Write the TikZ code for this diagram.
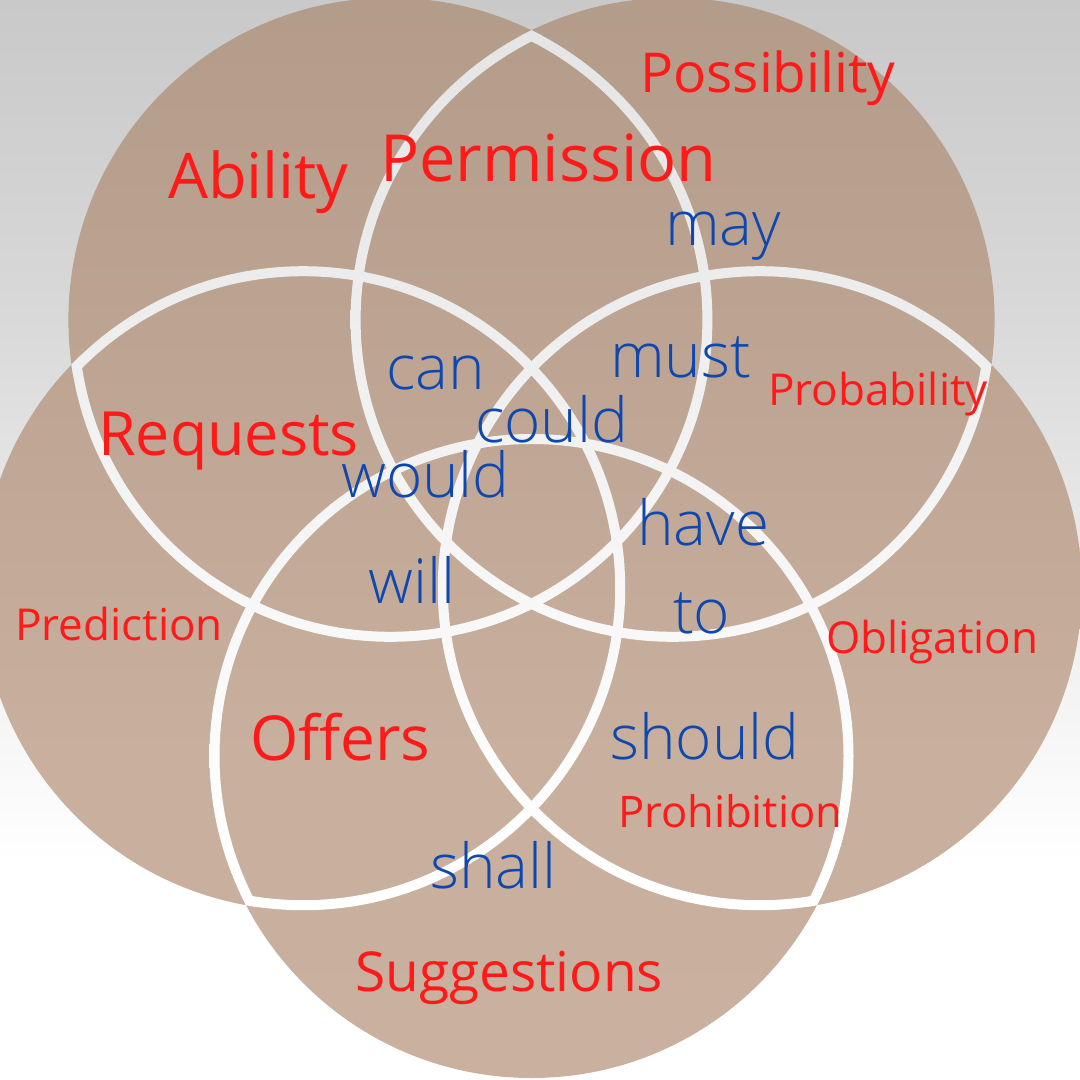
\documentclass[tikz,border=0pt]{standalone}
\usepackage{fontspec}
\setmainfont{Open Sans}
\newfontfamily\lightfont{Open Sans Light}
\definecolor{redtxt}{RGB}{255,26,26}
\definecolor{bluetxt}{RGB}{14,72,174}
\definecolor{bgA}{RGB}{236,236,236}
\definecolor{bgB}{RGB}{216,216,216}
\definecolor{bgC}{RGB}{204,204,204}
\definecolor{bgD}{RGB}{190,190,190}
\definecolor{bgE}{RGB}{176,176,176}
\definecolor{rgA}{RGB}{246,246,246}
\definecolor{rgB}{RGB}{233,233,233}
\definecolor{rgC}{RGB}{227,227,227}
\definecolor{rgD}{RGB}{218,218,218}
\definecolor{rgE}{RGB}{212,212,212}
\definecolor{brA}{RGB}{202,177,160}
\definecolor{brB}{RGB}{201,176,158}
\definecolor{brC}{RGB}{190,165,147}
\definecolor{brD}{RGB}{177,153,135}
\definecolor{brE}{RGB}{165,141,123}
\pgfdeclareverticalshading{bgsh}{100bp}{color(0bp)=(white); color(35bp)=(white); color(48bp)=(bgA); color(61bp)=(bgB); color(72bp)=(bgC); color(86bp)=(bgD); color(100bp)=(bgE)}
\pgfdeclareverticalshading{ringsh}{100bp}{color(0bp)=(white); color(35bp)=(white); color(49bp)=(rgA); color(66bp)=(rgB); color(77bp)=(rgC); color(91bp)=(rgD); color(100bp)=(rgE)}
\pgfdeclareverticalshading{brgrad}{100bp}{color(0bp)=(brA); color(40bp)=(brB); color(58bp)=(brC); color(80bp)=(brD); color(100bp)=(brE)}
\newcommand\ringpart[5]{%
  \begin{scope}
    \clip (#2) circle[radius=322pt] (#3) circle[radius=322pt] (#4) circle[radius=322pt] (#5) circle[radius=322pt];
    \clip (#1) ++(322pt,0pt) arc[start angle=0,end angle=360,radius=322pt]
          (#1) ++(312pt,0pt) arc[start angle=360,end angle=0,radius=312pt];
    \shade[shading=ringsh] (0,0) rectangle (1080,1080);
  \end{scope}}
\begin{document}
\begin{tikzpicture}[x=1pt,y=-1pt,
  lblR/.style={text=redtxt, inner sep=0pt, anchor=base west},
  wrdB/.style={text=bluetxt, inner sep=0pt, anchor=base west, font=\lightfont\fontsize{62}{62}\selectfont}]
\useasboundingbox (0,0) rectangle (1080,1080);
\coordinate (cTL) at (390.4,319.8);
\coordinate (cTR) at (672.6,319.8);
\coordinate (cL) at (303.2,588.2);
\coordinate (cR) at (759.8,588.2);
\coordinate (cB) at (531.5,756);
% background
\shade[shading=bgsh] (0,0) rectangle (1080,1080);
% brown union
\begin{scope}
  \clip (0,0) rectangle (1080,1080);
  \clip (cTL) circle[radius=322pt] (cTR) circle[radius=322pt] (cL) circle[radius=322pt] (cR) circle[radius=322pt] (cB) circle[radius=322pt];
  \shade[shading=brgrad] (0,0) rectangle (1080,1080);
\end{scope}
% light rings, only where they lie inside another circle
\begin{scope}
  \clip (0,0) rectangle (1080,1080);
  \ringpart{cTL}{cTR}{cL}{cR}{cB}
  \ringpart{cTR}{cTL}{cL}{cR}{cB}
  \ringpart{cL}{cTL}{cTR}{cR}{cB}
  \ringpart{cR}{cTL}{cTR}{cL}{cB}
  \ringpart{cB}{cTL}{cTR}{cL}{cR}
\end{scope}
% red labels
\node[lblR, font=\fontsize{55}{55}\selectfont] (possibility) at (640,92) {Possibility};
\node[lblR, font=\fontsize{65}{65}\selectfont] (permission) at (380,181) {Permission};
\node[lblR, font=\fontsize{63}{63}\selectfont] (ability) at (168,198) {Ability};
\node[lblR, font=\fontsize{61}{61}\selectfont] (requests) at (98,455) {Requests};
\node[lblR, font=\fontsize{44}{44}\selectfont] (probability) at (768,405) {Probability};
\node[lblR, font=\fontsize{44}{44}\selectfont] (prediction) at (15,640) {Prediction};
\node[lblR, font=\fontsize{62}{62}\selectfont] (offers) at (250,760) {Offers};
\node[lblR, font=\fontsize{44}{44}\selectfont] (obligation) at (826,653) {Obligation};
\node[lblR, font=\fontsize{43.5}{43.5}\selectfont] (prohibition) at (618,827) {Prohibition};
\node[lblR, font=\fontsize{55}{55}\selectfont] (suggestions) at (355,991) {Suggestions};
% blue words
\node[wrdB] (may) at (665,245) {may};
\node[wrdB] (can) at (386,389) {can};
\node[wrdB] (must) at (610,377) {must};
\node[wrdB] (could) at (475,442) {could};
\node[wrdB] (would) at (341,497) {would};
\node[wrdB] (will) at (368,603) {will};
\node[wrdB] (have) at (637,545) {have};
\node[wrdB] (to) at (673,633) {to};
\node[wrdB] (should) at (610,759) {should};
\node[wrdB] (shall) at (430,888) {shall};
\end{tikzpicture}
\end{document}
